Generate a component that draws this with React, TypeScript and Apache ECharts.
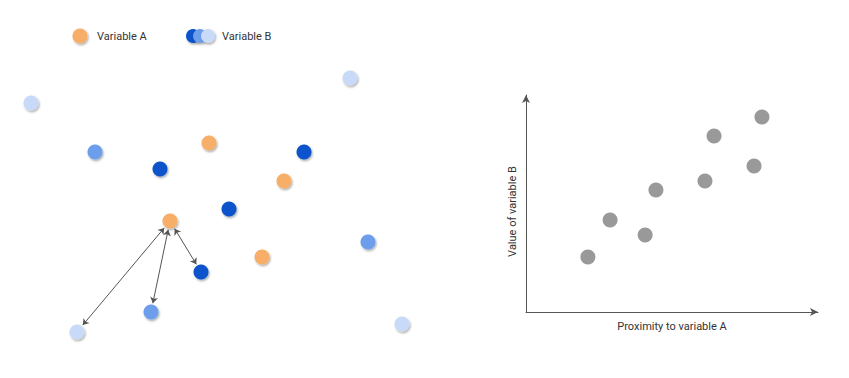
import React, { useEffect, useRef } from "react";
import * as echarts from "echarts";

// Left panel: abstract positions of the variables (x, y in panel units)
const variableA: [number, number][] = [
  [209, 143],
  [284, 181],
  [170, 221],
  [262, 257],
];
const variableBDark: [number, number][] = [
  [160, 169],
  [304, 152],
  [229, 209],
  [201, 272],
];
const variableBMedium: [number, number][] = [
  [95, 152],
  [368, 242],
  [151, 312],
];
const variableBLight: [number, number][] = [
  [31, 103],
  [350, 78],
  [77, 332],
  [402, 324],
];
// arrows from the central A point to three B points
const arrowFrom: [number, number] = [170, 221];
const arrowTo: [number, number][] = [
  [77, 332],
  [151, 312],
  [201, 272],
];

// Right panel: proximity to A vs value of B
const proximity = [21.2, 28.8, 40.8, 44.5, 61.3, 64.4, 78.1, 80.8];
const valueB = [25.3, 42.4, 35.5, 56.2, 60.4, 81.1, 67.3, 89.9];

const ORANGE = "#f6ae67";
const DARK = "#0c52cc";
const MEDIUM = "#6d9eeb";
const LIGHT = "#c9daf8";
const GRAY = "#999999";
const FONT = "Roboto";

function shorten(a: [number, number], b: [number, number], r: number) {
  const dx = b[0] - a[0];
  const dy = b[1] - a[1];
  const len = Math.sqrt(dx * dx + dy * dy);
  const ux = dx / len;
  const uy = dy / len;
  return [
    [a[0] + ux * r, a[1] + uy * r],
    [b[0] - ux * r, b[1] - uy * r],
  ];
}

export default function App() {
  const ref = useRef<HTMLDivElement>(null);
  useEffect(() => {
    document.body.style.margin = "0";
    if (!ref.current) return;
    const chart = echarts.init(ref.current, null, { renderer: "svg" });
    const shadow = {
      shadowBlur: 2,
      shadowColor: "rgba(0,0,0,0.35)",
      shadowOffsetX: 1,
      shadowOffsetY: 1.5,
    };
    const dot = (name: string, data: [number, number][], color: string) => ({
      name,
      type: "scatter",
      xAxisIndex: 0,
      yAxisIndex: 0,
      symbolSize: 15,
      data,
      itemStyle: { color, opacity: 1, ...shadow },
      silent: true,
    });
    const option: any = {
      animation: false,
      backgroundColor: "#ffffff",
      grid: [
        { left: 0, top: 0, width: 430, height: 378 },
        { left: 526, top: 95, width: 292, height: 217 },
      ],
      xAxis: [
        { gridIndex: 0, type: "value", min: 0, max: 430, show: false },
        {
          gridIndex: 1,
          type: "value",
          min: 0,
          max: 100,
          name: "Proximity to variable A",
          nameLocation: "middle",
          nameGap: 9,
          nameTextStyle: { color: "#333", fontSize: 11, fontFamily: FONT },
          axisLine: {
            show: true,
            symbol: ["none", "arrow"],
            symbolSize: [6, 8],
            lineStyle: { color: "#555", width: 1 },
          },
          axisTick: { show: false },
          axisLabel: { show: false },
          splitLine: { show: false },
        },
      ],
      yAxis: [
        { gridIndex: 0, type: "value", min: 0, max: 378, inverse: true, show: false },
        {
          gridIndex: 1,
          type: "value",
          min: 0,
          max: 100,
          name: "Value of variable B",
          nameLocation: "middle",
          nameGap: 8,
          nameTextStyle: {
            color: "#333",
            fontSize: 11,
            fontFamily: FONT,
            padding: [0, 16, 0, 0],
          },
          axisLine: {
            show: true,
            symbol: ["none", "arrow"],
            symbolSize: [6, 8],
            lineStyle: { color: "#555", width: 1 },
          },
          axisTick: { show: false },
          axisLabel: { show: false },
          splitLine: { show: false },
        },
      ],
      series: [
        {
          type: "lines",
          coordinateSystem: "cartesian2d",
          xAxisIndex: 0,
          yAxisIndex: 0,
          symbol: ["arrow", "arrow"],
          symbolSize: 6,
          lineStyle: { color: "#555", width: 1, opacity: 1 },
          data: arrowTo.map((t) => ({ coords: shorten(arrowFrom, t, 9) })),
          silent: true,
        },
        dot("Variable A", variableA, ORANGE),
        dot("B dark", variableBDark, DARK),
        dot("B medium", variableBMedium, MEDIUM),
        dot("B light", variableBLight, LIGHT),
        {
          type: "scatter",
          xAxisIndex: 1,
          yAxisIndex: 1,
          symbolSize: 15,
          data: proximity.map((x, i) => [x, valueB[i]]),
          itemStyle: { color: GRAY, opacity: 1 },
          silent: true,
        },
      ],
      graphic: [
        {
          type: "circle",
          shape: { cx: 80, cy: 36, r: 7.5 },
          style: { fill: ORANGE, ...shadow },
        },
        {
          type: "text",
          x: 97,
          y: 36,
          style: {
            text: "Variable A",
            fill: "#333",
            font: `11px ${FONT}`,
            textVerticalAlign: "middle",
          },
        },
        {
          type: "circle",
          shape: { cx: 193, cy: 36, r: 7 },
          style: { fill: DARK, ...shadow },
        },
        {
          type: "circle",
          shape: { cx: 200, cy: 36, r: 7 },
          style: { fill: MEDIUM, ...shadow },
        },
        {
          type: "circle",
          shape: { cx: 208, cy: 36, r: 7 },
          style: { fill: LIGHT, ...shadow },
        },
        {
          type: "text",
          x: 222,
          y: 36,
          style: {
            text: "Variable B",
            fill: "#333",
            font: `11px ${FONT}`,
            textVerticalAlign: "middle",
          },
        },
      ],
    };
    chart.setOption(option);
    return () => chart.dispose();
  }, []);
  return <div ref={ref} style={{ width: 849, height: 378 }} />;
}
